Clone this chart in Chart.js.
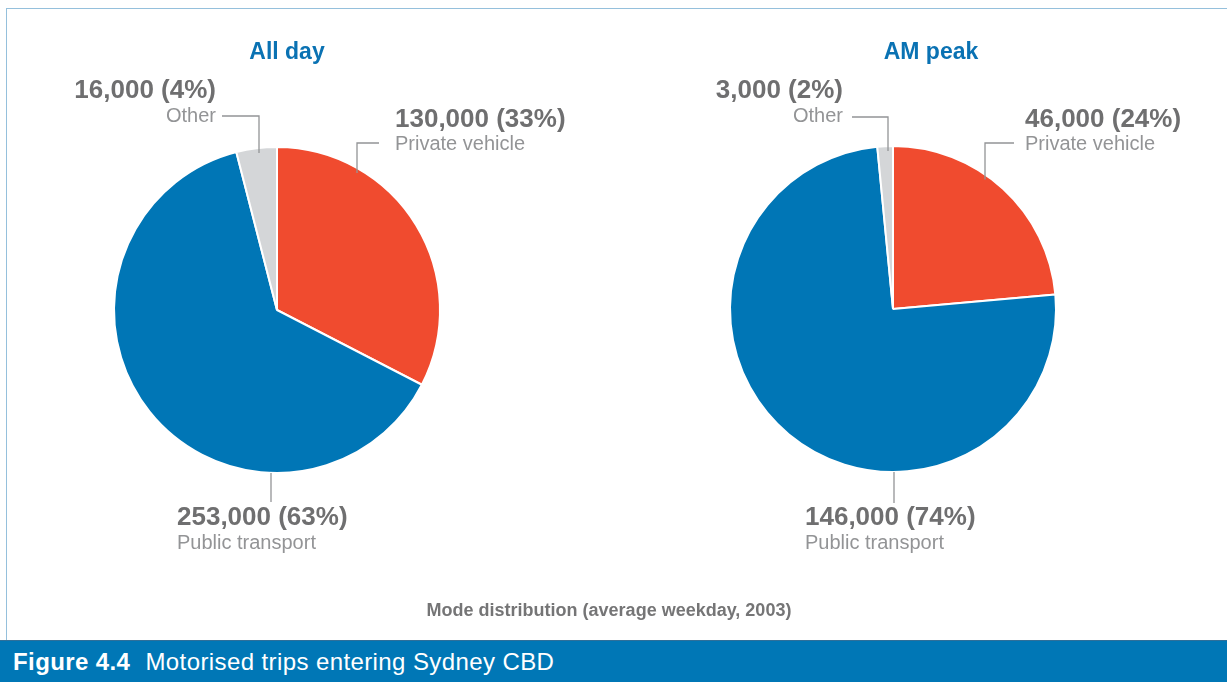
<!DOCTYPE html>
<html>
<head>
<meta charset="utf-8">
<script src="https://cdn.jsdelivr.net/npm/chart.js@4"></script>
<style>
  html, body { margin: 0; padding: 0; background: #fff; }
  body { width: 1227px; height: 682px; overflow: hidden; position: relative; font-family: "Liberation Sans", Arial, sans-serif; }
  .frame { position: absolute; left: 6px; top: 8px; width: 1240px; height: 640px; border: 1px solid #95c0dc; box-sizing: border-box; }
  .pie { position: absolute; top: 0; height: 640px; }
  .title { position: absolute; font-weight: bold; font-size: 23px; line-height: 23px; color: #0a72b3; transform: translateX(-50%); white-space: nowrap; }
  .num { position: absolute; font-weight: bold; font-size: 26px; line-height: 26px; color: #6f6f70; white-space: nowrap; }
  .cat { position: absolute; font-size: 20px; line-height: 20px; color: #939496; white-space: nowrap; }
  .right { transform: translateX(-100%); }
  .caption { position: absolute; left: 609px; top: 601px; transform: translateX(-50%); font-weight: bold; font-size: 18px; line-height: 18px; color: #757576; white-space: nowrap; }
  .banner { position: absolute; left: 0; top: 640px; width: 1227px; height: 42px; background: #0077b6; border-top: 1px solid #2f6f99; box-sizing: border-box; color: #fff; font-size: 24px; line-height: 42px; padding-left: 13px; letter-spacing: 0.4px; }
  .banner b { margin-right: 8px; }
</style>
</head>
<body>
<div class="frame"></div>
<div class="pie" id="wrap1" style="left:0; width:614px;"><canvas id="pie1"></canvas></div>
<div class="pie" id="wrap2" style="left:614px; width:613px;"><canvas id="pie2"></canvas></div>
<div id="labels"></div>
<div class="caption">Mode distribution (average weekday, 2003)</div>
<div class="banner"><b>Figure 4.4</b> Motorised trips entering Sydney CBD</div>

<script>
// data, slices run clockwise from 12 o'clock
const categories = ['Private vehicle', 'Public transport', 'Other']
const allDayTrips = [130000, 253000, 16000]
const allDayShare = [33, 63, 4]
const amPeakTrips = [46000, 146000, 3000]
const amPeakShare = [24, 74, 2]
const sliceColors = ['#f04b2f', '#0076b6', '#d4d6d8']

const charts = [
  {
    id: 'pie1', title: 'All day', values: allDayTrips, share: allDayShare,
    padding: { left: 113, right: 173, top: 146, bottom: 166 },
    // leader lines relative to pie centre: dx = vertical line, elbowDy / labelDx for the kink
    leaders: [
      { dx: 80, elbowDy: -167, labelDx: 102 },
      { dx: -6, endDy: 192 },
      { dx: -18, elbowDy: -194, labelDx: -55 }
    ],
    // text anchors (page coords)
    text: [
      { x: 395, y: 105, catY: 133, align: 'left' },
      { x: 177, y: 503, catY: 532, align: 'left' },
      { x: 216, y: 76, catY: 105, align: 'right' }
    ],
    titleX: 287
  },
  {
    id: 'pie2', title: 'AM peak', values: amPeakTrips, share: amPeakShare,
    padding: { left: 115, right: 170, top: 145, bottom: 167 },
    leaders: [
      { dx: 92, elbowDy: -166, labelDx: 121 },
      { dx: 1, endDy: 194 },
      { dx: -5, elbowDy: -192, labelDx: -41 }
    ],
    text: [
      { x: 1025, y: 105, catY: 133, align: 'left' },
      { x: 805, y: 503, catY: 532, align: 'left' },
      { x: 843, y: 76, catY: 105, align: 'right' }
    ],
    titleX: 931
  }
]

const leaderLines = {
  id: 'leaderLines',
  afterDraw(chart, args, opts) {
    const arc = chart.getDatasetMeta(0).data[0]
    if (!arc) return
    const { x, y, outerRadius } = arc.getProps(['x', 'y', 'outerRadius'], true)
    const ctx = chart.ctx
    ctx.save()
    ctx.strokeStyle = '#939496'
    ctx.lineWidth = 1.3
    opts.leaders.forEach(l => {
      const lx = x + l.dx
      const edge = Math.sqrt(outerRadius * outerRadius - l.dx * l.dx)
      ctx.beginPath()
      if (l.endDy !== undefined) {
        ctx.moveTo(lx, y + edge)
        ctx.lineTo(lx, y + l.endDy)
      } else {
        ctx.moveTo(x + l.labelDx, y + l.elbowDy)
        ctx.lineTo(lx, y + l.elbowDy)
        ctx.lineTo(lx, y - edge + 5)
      }
      ctx.stroke()
    })
    ctx.restore()
  }
}

const labelsBox = document.getElementById('labels')
function addText(cls, txt, x, y, align) {
  const d = document.createElement('div')
  d.className = cls + (align === 'right' ? ' right' : '')
  d.textContent = txt
  d.style.left = x + 'px'
  d.style.top = y + 'px'
  labelsBox.appendChild(d)
}

charts.forEach(c => {
  addText('title', c.title, c.titleX, 40)
  c.values.forEach((v, i) => {
    const t = c.text[i]
    addText('num', v.toLocaleString('en-US') + ' (' + c.share[i] + '%)', t.x, t.y, t.align)
    addText('cat', categories[i], t.x, t.catY, t.align)
  })

  new Chart(document.getElementById(c.id), {
    type: 'pie',
    data: {
      labels: categories,
      datasets: [{
        data: c.values,
        backgroundColor: sliceColors,
        borderColor: '#ffffff',
        borderWidth: 2
      }]
    },
    options: {
      responsive: true,
      maintainAspectRatio: false,
      animation: false,
      layout: { padding: c.padding },
      plugins: {
        legend: { display: false },
        tooltip: { enabled: false },
        leaderLines: { leaders: c.leaders }
      }
    },
    plugins: [leaderLines]
  })
})
</script>
</body>
</html>
